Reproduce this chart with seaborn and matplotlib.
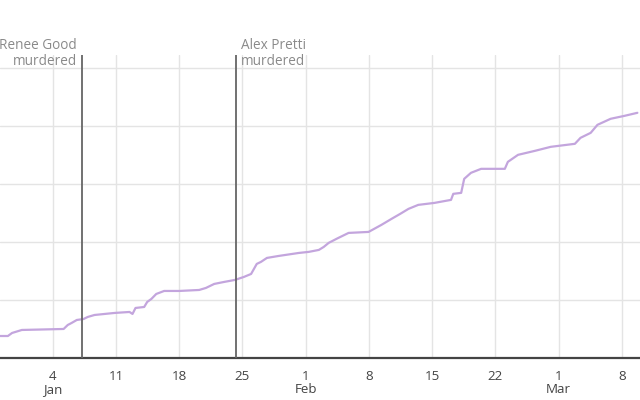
import pandas as pd
import matplotlib
matplotlib.use("Agg")
from matplotlib import pyplot as plt
import matplotlib.dates as mdates
import matplotlib.transforms as mtransforms
import seaborn as sns

# cumulative series (arbitrary units)
times = [
    "2025-12-29 04:00", "2025-12-30 01:00", "2025-12-30 12:00", "2025-12-31 14:00",
    "2026-01-05 05:00", "2026-01-05 16:00", "2026-01-06 02:00", "2026-01-06 16:00",
    "2026-01-07 10:00", "2026-01-07 21:00", "2026-01-08 15:00", "2026-01-10 20:00",
    "2026-01-12 12:00", "2026-01-12 20:00", "2026-01-13 04:00", "2026-01-14 03:00",
    "2026-01-14 11:00", "2026-01-14 22:00", "2026-01-15 11:00", "2026-01-16 08:00",
    "2026-01-18 00:00", "2026-01-20 05:00", "2026-01-20 23:00", "2026-01-21 21:00",
    "2026-01-22 23:00", "2026-01-24 04:00", "2026-01-25 04:00", "2026-01-25 23:00",
    "2026-01-26 14:00", "2026-01-27 01:00", "2026-01-27 17:00", "2026-01-29 01:00",
    "2026-01-31 06:00", "2026-02-01 08:00", "2026-02-02 11:00", "2026-02-03 00:00",
    "2026-02-03 13:00", "2026-02-04 12:00", "2026-02-05 18:00", "2026-02-07 23:00",
    "2026-02-09 09:00", "2026-02-10 12:00", "2026-02-11 11:00", "2026-02-12 09:00",
    "2026-02-13 11:00", "2026-02-15 06:00", "2026-02-17 02:00", "2026-02-17 08:00",
    "2026-02-18 05:00", "2026-02-18 13:00", "2026-02-19 07:00", "2026-02-20 10:00",
    "2026-02-23 01:00", "2026-02-23 09:00", "2026-02-24 12:00", "2026-02-26 09:00",
    "2026-02-28 03:00", "2026-03-02 19:00", "2026-03-03 10:00", "2026-03-04 13:00",
    "2026-03-05 07:00", "2026-03-06 18:00", "2026-03-08 07:00", "2026-03-09 17:00",
]
values = [
    37.9, 37.9, 43.1, 48.3,
    50.0, 56.9, 60.3, 65.5,
    67.2, 70.7, 74.1, 77.6,
    79.3, 75.9, 86.2, 87.9,
    96.6, 101.7, 110.3, 115.5,
    115.5, 117.2, 120.7, 127.6,
    131.0, 134.5, 139.7, 144.8,
    162.1, 165.5, 172.4, 175.9,
    181.0, 182.8, 186.2, 191.4,
    198.3, 206.0, 215.5, 217.2,
    229.3, 239.7, 248.3, 256.9,
    263.8, 267.2, 272.4, 282.8,
    284.5, 308.6, 319.0, 325.9,
    325.9, 337.9, 350.0, 356.9,
    363.8, 369.0, 379.3, 387.9,
    401.7, 412.1, 417.2, 422.4,
]

events = ["2026-01-07 05:00", "2026-01-24 07:00"]
event_labels = ["Renee Good\nmurdered", "Alex Pretti\nmurdered"]

tick_dates = ["2026-01-04", "2026-01-11", "2026-01-18", "2026-01-25", "2026-02-01",
              "2026-02-08", "2026-02-15", "2026-02-22", "2026-03-01", "2026-03-08"]
tick_labels = ["4\nJan", "11", "18", "25", "1\nFeb", "8", "15", "22", "1\nMar", "8"]
y_grid = [100, 200, 300, 400, 500]

df = pd.DataFrame({"time": pd.to_datetime(times), "value": values})

sns.set_style("white")
plt.rcParams["font.family"] = ["Open Sans", "DejaVu Sans"]

fig = plt.figure(figsize=(6.4, 4.0), dpi=100)
ax = fig.add_axes([0.0, 0.105, 1.0, 0.7575])

sns.lineplot(data=df, x="time", y="value", ax=ax, color="#c3a5dd", linewidth=1.6)

ax.set_xlim(pd.Timestamp("2025-12-29 04:00"), pd.Timestamp("2026-03-10 00:00"))
ax.set_ylim(0, 522)

ax.set_xticks(pd.to_datetime(tick_dates))
ax.set_xticklabels(tick_labels)
for lab in ax.get_xticklabels():
    lab.set_linespacing(0.95)
ax.set_yticks(y_grid)
ax.set_yticklabels([])
ax.tick_params(axis="y", length=0)
ax.tick_params(axis="x", direction="out", length=5, width=1.2, color="#444444",
               labelcolor="#444444", labelsize=9.6, pad=4)
ax.grid(True, color="#e4e4e4", linewidth=1)
ax.set_axisbelow(True)
for s in ["top", "left", "right"]:
    ax.spines[s].set_visible(False)
ax.spines["bottom"].set_color("#444444")
ax.spines["bottom"].set_linewidth(1.6)
ax.set_xlabel("")
ax.set_ylabel("")

trans = mtransforms.blended_transform_factory(ax.transData, ax.transAxes)
for i, (d, lab) in enumerate(zip(events, event_labels)):
    dt = mdates.date2num(pd.Timestamp(d))
    ax.axvline(dt, color="#666666", linewidth=1.3, zorder=3)
    ha = "right" if i == 0 else "left"
    off = -3.5 if i == 0 else 3.5
    ax.annotate(lab, xy=(dt, 0.955), xycoords=trans, xytext=(off, 0),
                textcoords="offset points", ha=ha, va="bottom",
                color="#8a8a8a", fontsize=9.8, linespacing=1.05,
                annotation_clip=False, multialignment=ha)

fig.savefig("out.png", dpi=100)
